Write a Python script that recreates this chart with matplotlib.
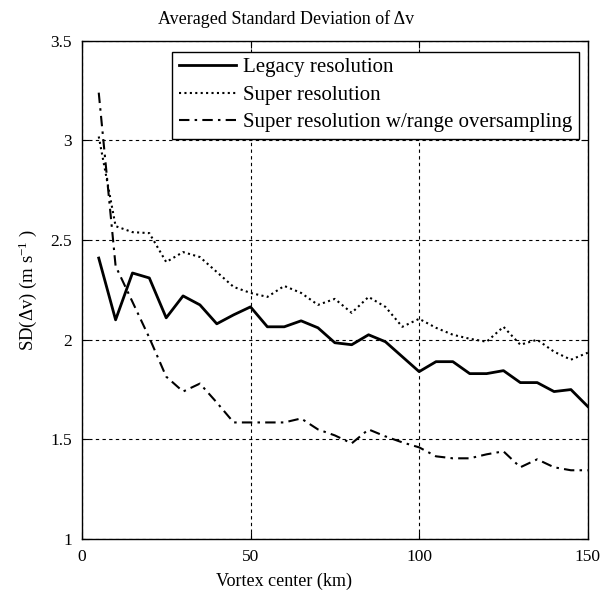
import matplotlib
matplotlib.use("Agg")
import matplotlib.pyplot as plt

plt.rcParams['font.family'] = ['Liberation Serif', 'DejaVu Serif']
plt.rcParams['mathtext.default'] = 'regular'
plt.rcParams['font.size'] = 12

# vortex center positions (km)
dist = [5, 10, 15, 20, 25, 30, 35, 40, 45, 50, 55, 60, 65, 70, 75,
        80, 85, 90, 95, 100, 105, 110, 115, 120, 125, 130, 135, 140, 145, 150]

legacy = [2.41, 2.10, 2.335, 2.31, 2.11, 2.22, 2.175, 2.08, 2.125, 2.165,
          2.065, 2.065, 2.095, 2.06, 1.985, 1.975, 2.025, 1.99, 1.915, 1.84,
          1.89, 1.89, 1.83, 1.83, 1.845, 1.785, 1.785, 1.74, 1.75, 1.665]

superres = [3.02, 2.57, 2.54, 2.535, 2.39, 2.44, 2.415, 2.34, 2.265, 2.235,
            2.215, 2.27, 2.235, 2.175, 2.205, 2.135, 2.215, 2.165, 2.065, 2.105,
            2.06, 2.025, 2.005, 1.99, 2.065, 1.975, 2.0, 1.94, 1.90, 1.935]

oversamp = [3.24, 2.37, 2.19, 2.01, 1.815, 1.74, 1.78, 1.685, 1.585, 1.585,
            1.585, 1.585, 1.605, 1.55, 1.52, 1.48, 1.55, 1.515, 1.485, 1.46,
            1.415, 1.405, 1.405, 1.425, 1.44, 1.36, 1.40, 1.36, 1.345, 1.345]

labels = ['Legacy resolution', 'Super resolution',
          'Super resolution w/range oversampling']

fig = plt.figure(figsize=(6.11, 5.92), dpi=100)
ax = fig.add_axes([0.134, 0.0895, 0.828, 0.8415])

ax.plot(dist, legacy, color='black', lw=2.0, ls='-', label=labels[0])
ax.plot(dist, superres, color='black', lw=1.5, ls=(0, (1, 1.6)), label=labels[1])
ax.plot(dist, oversamp, color='black', lw=1.5, ls=(0, (5, 2.5, 1.2, 2.5)), label=labels[2])

ax.set_xlim(0, 150)
ax.set_ylim(1, 3.5)
ax.set_xticks([0, 50, 100, 150])
ax.set_yticks([1, 1.5, 2, 2.5, 3, 3.5])
ax.set_yticklabels(['1', '1.5', '2', '2.5', '3', '3.5'])
ax.tick_params(direction='in', top=True, right=True, length=5, width=0.8,
               labelsize=12.5)
ax.tick_params(axis='x', pad=7)
ax.tick_params(axis='y', pad=7)
ax.grid(True, color='black', ls=(0, (3, 3)), lw=0.8)
for sp in ax.spines.values():
    sp.set_linewidth(1.0)

ax.set_title('Averaged Standard Deviation of \u0394v', fontsize=13, x=0.403, pad=12)
ax.set_xlabel('Vortex center (km)', fontsize=13, x=0.40, labelpad=6)
ax.set_ylabel('SD(\u0394v) (m s$^{-1}$ )', fontsize=13.5, labelpad=8)

leg = ax.legend(loc='upper right', bbox_to_anchor=(0.982, 0.9785),
                borderaxespad=0, fancybox=False, framealpha=1,
                edgecolor='black', handlelength=2.75, fontsize=15,
                labelspacing=0.38, borderpad=0.3, handletextpad=0.35)
leg.get_frame().set_linewidth(1.0)

fig.savefig('out.png', dpi=100)
